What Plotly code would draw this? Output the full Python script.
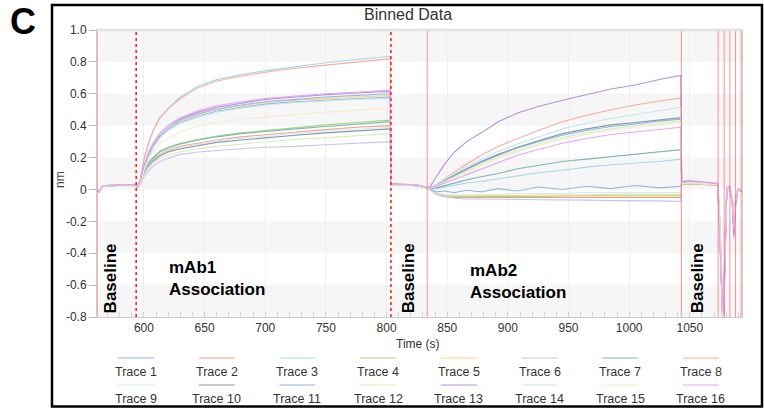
import plotly.graph_objects as go

# ---------------- data ----------------
baseline1_t = [561, 563, 566, 575, 585, 593.5]
assoc1_t = [594.5, 597, 600, 604, 608, 613, 620, 630, 645, 660, 680, 700, 725, 750, 775, 803]
baseline2_t = [803.6, 815, 825, 833.5]
assoc2_t = [836, 841, 848, 856, 866, 878, 892, 908, 925, 945, 965, 985, 1005, 1025, 1042.5]
baseline3_t = [1043.3, 1050, 1060, 1073]
regen_t = [1074.5, 1076, 1077.5, 1079, 1080.5, 1083, 1085, 1086.3, 1087.8, 1089.5, 1093]
time_s = baseline1_t + assoc1_t + baseline2_t + assoc2_t + baseline3_t + regen_t

trace_01 = [0.002, -0.012, 0.022, 0.028, 0.025, 0.027,
            0.01, 0.045, 0.13, 0.21, 0.27, 0.325, 0.375, 0.42, 0.46, 0.49, 0.515, 0.535, 0.55, 0.56, 0.57, 0.58,
            0.03, 0.028, 0.025, 0.01,
            0.01, 0.025, 0.055, 0.085, 0.125, 0.17, 0.215, 0.26, 0.30, 0.34, 0.37, 0.395, 0.41, 0.43, 0.44,
            0.035, 0.04, 0.035, 0.03,
            -0.2, -0.6, -0.88, -0.35, 0.01, 0.012, -0.07, -0.22, -0.07, 0.0, -0.01]
trace_02 = [0.0, -0.015, 0.02, 0.026, 0.03, 0.024,
            0.01, 0.035, 0.10, 0.16, 0.19, 0.22, 0.245, 0.27, 0.29, 0.31, 0.33, 0.345, 0.36, 0.375, 0.39, 0.40,
            0.025, 0.03, 0.022, 0.008,
            0.0, -0.03, -0.045, -0.05, -0.05, -0.05, -0.05, -0.05, -0.05, -0.05, -0.05, -0.05, -0.048, -0.048, -0.05,
            0.03, 0.035, 0.032, 0.025,
            -0.15, -0.5, -0.82, -0.4, 0.0, 0.008, -0.06, -0.2, -0.06, 0.0, -0.012]
trace_03 = [0.0, -0.01, 0.018, 0.024, 0.026, 0.022,
            0.01, 0.06, 0.19, 0.30, 0.38, 0.45, 0.51, 0.58, 0.65, 0.69, 0.72, 0.745, 0.77, 0.795, 0.815, 0.835,
            0.035, 0.032, 0.028, 0.012,
            0.005, 0.005, 0.015, 0.025, 0.04, 0.05, 0.065, 0.085, 0.105, 0.12, 0.14, 0.155, 0.165, 0.175, 0.19,
            0.04, 0.045, 0.04, 0.032,
            -0.25, -0.7, -0.95, -0.45, 0.005, 0.01, -0.09, -0.27, -0.08, 0.0, -0.015]
trace_04 = [0.0, -0.013, 0.021, 0.027, 0.024, 0.028,
            0.01, 0.04, 0.11, 0.17, 0.205, 0.24, 0.265, 0.29, 0.315, 0.335, 0.355, 0.37, 0.39, 0.405, 0.42, 0.435,
            0.028, 0.03, 0.026, 0.01,
            0.0, -0.03, -0.04, -0.045, -0.045, -0.045, -0.045, -0.045, -0.045, -0.04, -0.04, -0.04, -0.04, -0.04, -0.04,
            0.03, 0.038, 0.035, 0.03,
            -0.18, -0.55, -0.85, -0.3, 0.01, 0.015, -0.05, -0.18, -0.05, 0.005, -0.01]
trace_05 = [0.002, -0.012, 0.02, 0.03, 0.028, 0.026,
            0.01, 0.045, 0.135, 0.215, 0.275, 0.33, 0.38, 0.43, 0.47, 0.50, 0.525, 0.545, 0.56, 0.57, 0.58, 0.59,
            0.03, 0.034, 0.028, 0.012,
            0.0, -0.025, -0.035, -0.04, -0.04, -0.04, -0.04, -0.038, -0.035, -0.035, -0.035, -0.03, -0.03, -0.03, -0.03,
            0.035, 0.04, 0.036, 0.03,
            -0.2, -0.58, -0.9, -0.38, 0.008, 0.01, -0.07, -0.24, -0.07, 0.0, -0.01]
trace_06 = [0.0, -0.016, 0.018, 0.025, 0.027, 0.025,
            0.01, 0.03, 0.08, 0.12, 0.15, 0.175, 0.195, 0.22, 0.235, 0.245, 0.255, 0.265, 0.27, 0.28, 0.29, 0.30,
            0.03, 0.027, 0.024, 0.01,
            0.0, -0.03, -0.045, -0.055, -0.06, -0.06, -0.06, -0.062, -0.065, -0.065, -0.067, -0.07, -0.07, -0.072, -0.075,
            0.05, 0.055, 0.048, 0.04,
            -0.16, -0.52, -0.8, -0.3, 0.015, 0.02, -0.05, -0.15, -0.04, 0.005, -0.005]
trace_07 = [0.0, -0.014, 0.02, 0.026, 0.03, 0.027,
            0.01, 0.04, 0.11, 0.17, 0.20, 0.235, 0.26, 0.285, 0.31, 0.33, 0.35, 0.365, 0.38, 0.395, 0.41, 0.425,
            0.032, 0.03, 0.027, 0.01,
            0.005, 0.01, 0.025, 0.04, 0.06, 0.08, 0.10, 0.13, 0.15, 0.175, 0.19, 0.205, 0.22, 0.235, 0.25,
            0.04, 0.042, 0.038, 0.03,
            -0.22, -0.65, -0.92, -0.42, 0.0, 0.01, -0.08, -0.26, -0.08, -0.005, -0.012]
trace_08 = [0.0, -0.012, 0.022, 0.025, 0.028, 0.026,
            0.01, 0.06, 0.185, 0.295, 0.375, 0.445, 0.505, 0.57, 0.64, 0.68, 0.71, 0.735, 0.76, 0.78, 0.80, 0.82,
            0.035, 0.03, 0.026, 0.01,
            0.01, 0.03, 0.07, 0.11, 0.16, 0.215, 0.27, 0.32, 0.37, 0.425, 0.465, 0.50, 0.53, 0.555, 0.572,
            0.045, 0.05, 0.045, 0.035,
            -0.2, -0.62, -0.9, -0.4, 0.01, 0.012, -0.08, -0.28, -0.09, 0.0, -0.01]
trace_09 = [0.0, -0.01, 0.02, 0.024, 0.026, 0.024,
            0.01, 0.035, 0.10, 0.155, 0.185, 0.215, 0.24, 0.265, 0.285, 0.305, 0.32, 0.335, 0.35, 0.365, 0.378, 0.39,
            0.028, 0.03, 0.025, 0.01,
            0.0, -0.02, -0.03, -0.03, -0.03, -0.03, -0.03, -0.025, -0.025, -0.025, -0.02, -0.02, -0.02, -0.02, -0.02,
            0.035, 0.04, 0.035, 0.03,
            -0.17, -0.5, -0.84, -0.35, 0.01, 0.01, -0.06, -0.19, -0.06, 0.0, -0.01]
trace_10 = [0.0, -0.015, 0.02, 0.025, 0.027, 0.024,
            0.01, 0.035, 0.095, 0.15, 0.18, 0.21, 0.235, 0.255, 0.275, 0.295, 0.31, 0.325, 0.34, 0.355, 0.368, 0.38,
            0.03, 0.028, 0.024, 0.01,
            0.01, 0.03, 0.06, 0.09, 0.13, 0.175, 0.22, 0.265, 0.305, 0.35, 0.38, 0.405, 0.42, 0.435, 0.45,
            0.04, 0.045, 0.04, 0.032,
            -0.21, -0.6, -0.88, -0.4, 0.005, 0.01, -0.07, -0.23, -0.07, 0.0, -0.01]
trace_11 = [0.0, -0.013, 0.022, 0.028, 0.026, 0.028,
            0.01, 0.05, 0.14, 0.22, 0.28, 0.335, 0.385, 0.435, 0.475, 0.505, 0.53, 0.55, 0.565, 0.58, 0.59, 0.60,
            0.032, 0.03, 0.028, 0.012,
            0.0, -0.015, -0.01, -0.02, -0.005, -0.015, 0.005, -0.01, 0.015, 0.0, 0.02, 0.005, 0.025, 0.01, 0.02,
            0.04, 0.045, 0.04, 0.032,
            -0.19, -0.56, -0.86, -0.36, 0.01, 0.012, -0.07, -0.21, -0.06, 0.0, -0.01]
trace_12 = [0.0, -0.012, 0.019, 0.024, 0.026, 0.023,
            0.01, 0.03, 0.09, 0.14, 0.17, 0.195, 0.215, 0.235, 0.255, 0.27, 0.285, 0.30, 0.315, 0.325, 0.338, 0.35,
            0.028, 0.027, 0.024, 0.01,
            0.01, 0.02, 0.05, 0.08, 0.115, 0.16, 0.205, 0.245, 0.285, 0.325, 0.355, 0.38, 0.40, 0.415, 0.43,
            0.038, 0.042, 0.038, 0.03,
            -0.17, -0.52, -0.83, -0.33, 0.01, 0.012, -0.06, -0.2, -0.06, 0.0, -0.01]
trace_13 = [0.0, -0.016, 0.021, 0.027, 0.029, 0.026,
            0.01, 0.055, 0.15, 0.235, 0.295, 0.35, 0.40, 0.445, 0.485, 0.515, 0.54, 0.565, 0.58, 0.595, 0.605, 0.615,
            0.035, 0.033, 0.028, 0.012,
            0.02, 0.08, 0.16, 0.235, 0.30, 0.355, 0.425, 0.48, 0.52, 0.56, 0.595, 0.63, 0.655, 0.69, 0.715,
            0.05, 0.052, 0.045, 0.035,
            -0.24, -0.68, -0.95, -0.45, 0.005, 0.01, -0.09, -0.3, -0.1, 0.0, -0.012]
trace_14 = [0.0, -0.01, 0.02, 0.025, 0.025, 0.024,
            0.01, 0.045, 0.13, 0.205, 0.265, 0.32, 0.37, 0.415, 0.455, 0.485, 0.51, 0.53, 0.545, 0.555, 0.565, 0.57,
            0.03, 0.03, 0.025, 0.01,
            0.01, 0.03, 0.065, 0.10, 0.145, 0.19, 0.24, 0.285, 0.33, 0.38, 0.415, 0.445, 0.47, 0.495, 0.515,
            0.042, 0.046, 0.04, 0.032,
            -0.2, -0.6, -0.9, -0.4, 0.008, 0.01, -0.07, -0.24, -0.07, 0.0, -0.01]
trace_15 = [0.0, -0.012, 0.02, 0.026, 0.027, 0.025,
            0.01, 0.04, 0.12, 0.19, 0.24, 0.29, 0.32, 0.36, 0.40, 0.42, 0.44, 0.455, 0.47, 0.485, 0.495, 0.51,
            0.03, 0.03, 0.026, 0.01,
            0.01, 0.02, 0.045, 0.075, 0.11, 0.15, 0.195, 0.235, 0.275, 0.315, 0.345, 0.37, 0.39, 0.405, 0.42,
            0.04, 0.044, 0.04, 0.03,
            -0.18, -0.55, -0.85, -0.35, 0.01, 0.012, -0.06, -0.2, -0.06, 0.0, -0.01]
trace_16 = [0.0, -0.014, 0.022, 0.028, 0.027, 0.027,
            0.01, 0.05, 0.145, 0.23, 0.29, 0.35, 0.40, 0.45, 0.495, 0.525, 0.55, 0.57, 0.585, 0.60, 0.61, 0.625,
            0.033, 0.031, 0.027, 0.011,
            0.01, 0.02, 0.04, 0.065, 0.095, 0.13, 0.17, 0.215, 0.25, 0.29, 0.32, 0.345, 0.36, 0.375, 0.39,
            0.045, 0.05, 0.045, 0.035,
            -0.3, -0.59, -0.78, -0.4, 0.01, 0.012, -0.08, -0.25, -0.08, 0.0, -0.01]

trace_values = [trace_01, trace_02, trace_03, trace_04, trace_05, trace_06, trace_07, trace_08,
                trace_09, trace_10, trace_11, trace_12, trace_13, trace_14, trace_15, trace_16]
trace_names = ["Trace %d" % i for i in range(1, 17)]
trace_colors = ["#8db3dd", "#f2a285", "#a9d6e6", "#a6d67e", "#f6d68e", "#cbc3f3", "#7db7b7", "#f7ad9c",
                "#d6eaf3", "#8797aa", "#97b6e6", "#d5eebd", "#b68fe0", "#c5e4ee", "#f7e9cf", "#e6a6ee"]

step_lines_s = [561.5, 593.6, 803.6, 833.5, 1043, 1073.3, 1078.3, 1083, 1087.6, 1092.3]
dotted_steps_s = [593.6, 803.6]

y_tick_vals = [1.0, 0.8, 0.6, 0.4, 0.2, 0, -0.2, -0.4, -0.6, -0.8]
y_tick_text = ["1.0", "0.8", "0.6", "0.4", "0.2", "0", "-0.2", "-0.4", "-0.6", "-0.8"]
x_tick_vals = [600, 650, 700, 750, 800, 850, 900, 950, 1000, 1050]
band_ranges = [(0.8, 1.0), (0.4, 0.6), (0.0, 0.2), (-0.4, -0.2), (-0.8, -0.6)]

baseline_label_x = [572, 817.6, 1056.6]
step_labels = [(619, -0.56, "mAb1<br>Association"), (867, -0.58, "mAb2<br>Association")]

for v in trace_values:
    assert len(v) == len(time_s), len(v)

# ---------------- figure ----------------
FONT = "Liberation Sans, Arial, sans-serif"
W, H = 764, 408
L, R, T, B = 97, 22, 30, 91
PW, PH = W - L - R, H - T - B


def px_x(p):
    return (p - L) / PW


def px_y(p):
    return (H - B - p) / PH


fig = go.Figure()
for name, vals, col in zip(trace_names, trace_values, trace_colors):
    fig.add_trace(go.Scatter(x=time_s, y=vals, mode="lines", name=name,
                             line=dict(color=col, width=1.1), showlegend=False))

shapes = []
for y0, y1 in band_ranges:
    shapes.append(dict(type="rect", xref="paper", x0=0, x1=1, yref="y", y0=y0, y1=y1,
                       fillcolor="#f6f6f6", line=dict(width=0), layer="below"))
for xs in step_lines_s:
    if xs in dotted_steps_s:
        shapes.append(dict(type="line", xref="x", x0=xs, x1=xs, yref="paper", y0=0, y1=1,
                           line=dict(color="#ff2020", width=1.6, dash="dot")))
    else:
        shapes.append(dict(type="line", xref="x", x0=xs, x1=xs, yref="paper", y0=0, y1=1,
                           line=dict(color="rgba(240,80,80,0.6)", width=1)))
# top border of plot area
shapes.append(dict(type="line", xref="paper", x0=0, x1=1, yref="paper", y0=1, y1=1,
                   line=dict(color="#e2e2e2", width=2.5)))
# outer frame
shapes.append(dict(type="rect", xref="paper", yref="paper",
                   x0=px_x(52), x1=px_x(762), y0=px_y(406.5), y1=px_y(5),
                   line=dict(color="black", width=2.5)))


def label(x, y, text, size, color, xref="paper", yref="paper", **kw):
    d = dict(x=x, y=y, xref=xref, yref=yref, text=text, showarrow=False,
             xanchor="center", yanchor="middle", font=dict(family=FONT, size=size, color=color))
    d.update(kw)
    return d


annotations = []
for bx in baseline_label_x:
    annotations.append(label(bx, -0.79, "<b>Baseline</b>", 17, "black", xref="x", yref="y",
                             textangle=-90, yanchor="bottom"))
for sx, sy, st in step_labels:
    annotations.append(label(sx, sy, "<b>" + st.replace("<br>", "</b><br><b>") + "</b>", 17, "black",
                             xref="x", yref="y", xanchor="left", align="left"))
annotations.append(label(px_x(22.5), px_y(21), "<b>C</b>", 36, "black"))
annotations.append(label(px_x(408), px_y(15), "Binned Data", 16, "#333"))
annotations.append(label(px_x(60), px_y(180), "nm", 12, "#444", textangle=-90))
annotations.append(label(px_x(418), px_y(344), "Time (s)", 12, "#333"))

# legend (two rows, line above label)
for i, (name, col) in enumerate(zip(trace_names, trace_colors)):
    row, c = divmod(i, 8)
    cx = 136 + 80.7 * c
    ly = 358 + 27 * row
    shapes.append(dict(type="line", xref="paper", yref="paper",
                       x0=px_x(cx - 18), x1=px_x(cx + 18), y0=px_y(ly), y1=px_y(ly),
                       line=dict(color=col, width=1.2)))
    annotations.append(label(px_x(cx), px_y(ly + 14), name, 12.5, "#333"))

fig.update_layout(
    width=W, height=H, margin=dict(l=L, r=R, t=T, b=B),
    paper_bgcolor="white", plot_bgcolor="white",
    shapes=shapes, annotations=annotations, showlegend=False,
    font=dict(family=FONT, size=12, color="#444"),
)
fig.update_xaxes(range=[561.3, 1093], tickvals=x_tick_vals, ticks="inside", ticklen=5,
                 tickcolor="#cfcfcf", showgrid=True, gridcolor="#efefef", zeroline=False,
                 showline=True, linecolor="#cccccc", mirror=True,
                 minor=dict(dtick=10, ticks="inside", ticklen=5, tickcolor="#d6d6d6", showgrid=False),
                 tickfont=dict(family=FONT, size=12, color="#333"))
fig.update_yaxes(range=[-0.8, 1.0], tickvals=y_tick_vals, ticktext=y_tick_text, ticks="outside",
                 ticklen=7, tickcolor="#bbbbbb", showgrid=False, zeroline=False,
                 showline=True, linecolor="#cccccc", mirror=True,
                 tickfont=dict(family=FONT, size=12, color="#333"))

fig.write_html("out.html", config={"displayModeBar": False},
               post_script="document.body.style.margin='0';document.body.style.overflow='hidden';")
